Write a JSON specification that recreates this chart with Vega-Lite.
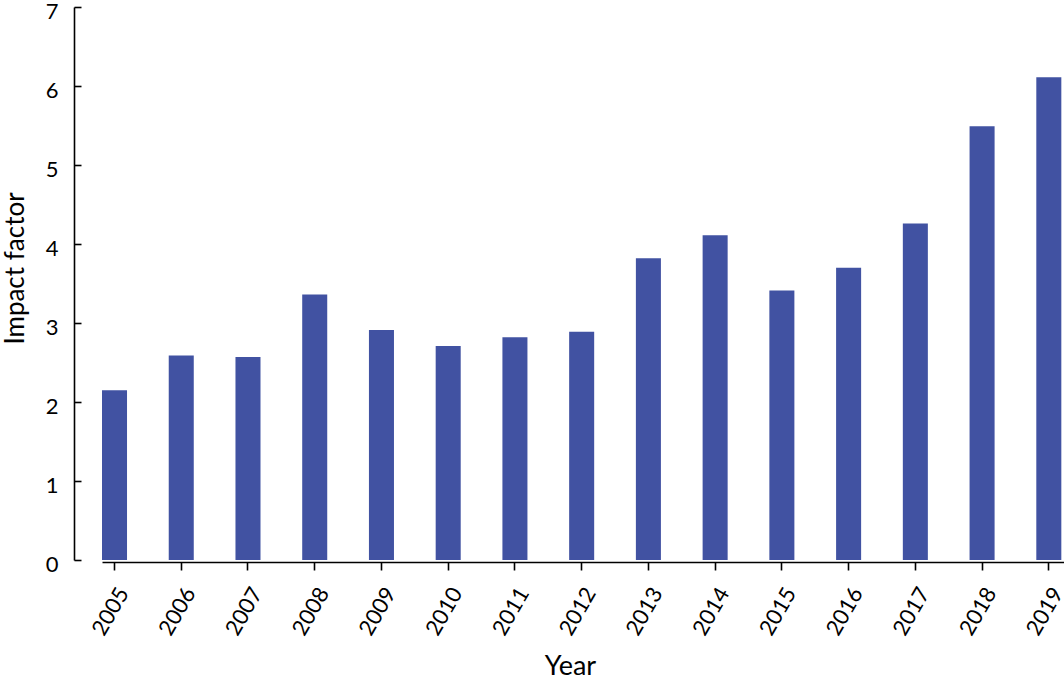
{
  "$schema": "https://vega.github.io/schema/vega-lite/v6.json",
  "description": "Impact factor by year, 2005-2019",
  "autosize": {"type": "none"},
  "padding": {"left": 102, "top": 7, "right": 0, "bottom": 118},
  "width": 962,
  "height": 553,
  "background": "#ffffff",
  "data": {
    "values": [
      {"year": "2005", "impact": 2.15},
      {"year": "2006", "impact": 2.59},
      {"year": "2007", "impact": 2.57},
      {"year": "2008", "impact": 3.36},
      {"year": "2009", "impact": 2.91},
      {"year": "2010", "impact": 2.71},
      {"year": "2011", "impact": 2.82},
      {"year": "2012", "impact": 2.89},
      {"year": "2013", "impact": 3.82},
      {"year": "2014", "impact": 4.11},
      {"year": "2015", "impact": 3.41},
      {"year": "2016", "impact": 3.70},
      {"year": "2017", "impact": 4.26},
      {"year": "2018", "impact": 5.49},
      {"year": "2019", "impact": 6.11}
    ]
  },
  "mark": {"type": "bar", "color": "#4152a2"},
  "encoding": {
    "x": {
      "field": "year",
      "type": "ordinal",
      "title": "Year",
      "scale": {"paddingInner": 0.625, "paddingOuter": 0.02, "align": 0},
      "axis": {
        "offset": 2,
        "labelAngle": -60,
        "labelAlign": "right",
        "labelBaseline": "middle",
        "labelFontSize": 22,
        "labelPadding": 19,
        "labelOffset": 9,
        "tickSize": 8,
        "titleFontSize": 27,
        "titleFontWeight": "normal",
        "titleBaseline": "alphabetic",
        "titleX": 468,
        "titleY": 112
      }
    },
    "y": {
      "field": "impact",
      "type": "quantitative",
      "title": "Impact factor",
      "scale": {"domain": [0, 7], "nice": false},
      "axis": {
        "offset": 28,
        "values": [0, 1, 2, 3, 4, 5, 6, 7],
        "tickSize": -7,
        "labelFontSize": 22,
        "labelPadding": 23,
        "labelBaseline": "middle",
        "labelOffset": 4,
        "titleFontSize": 26,
        "titleFontWeight": "normal",
        "titleBaseline": "alphabetic",
        "titleX": -51,
        "titleY": 261,
        "titleAlign": "center"
      }
    }
  },
  "config": {
    "view": {"stroke": null},
    "font": "Lato",
    "axis": {
      "grid": false,
      "domainColor": "#000000",
      "domainWidth": 1.6,
      "tickColor": "#000000",
      "tickWidth": 1.6,
      "labelColor": "#000000",
      "titleColor": "#000000",
      "labelFont": "Lato",
      "titleFont": "Lato"
    }
  }
}
